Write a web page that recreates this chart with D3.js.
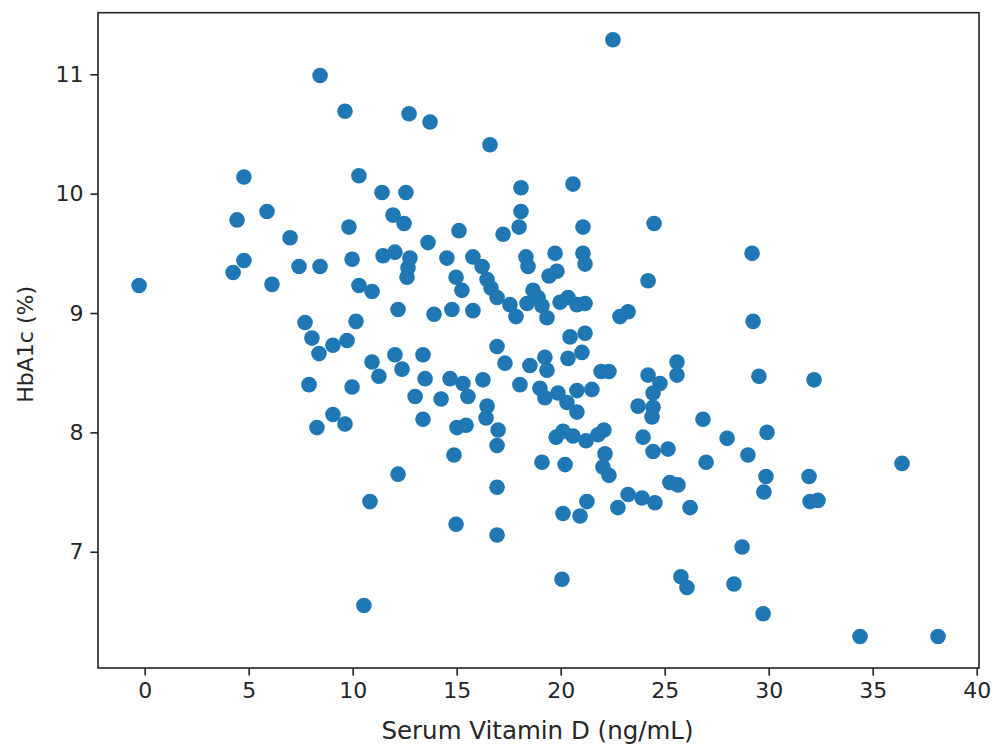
<!DOCTYPE html>
<html>
<head>
<meta charset="utf-8">
<script src="https://cdn.jsdelivr.net/npm/d3@7"></script>
<style>
  html, body { margin: 0; padding: 0; background: #fff; }
  svg { display: block; }
  text { font-family: "DejaVu Sans", sans-serif; fill: #262626; }
</style>
</head>
<body>
<svg id="chart" width="995" height="744"></svg>
<script>
// Serum vitamin D (ng/mL) values
const vitaminD = [
  -0.27, 4.25, 4.77, 4.44, 4.77, 5.88, 6.12, 6.99, 7.42, 8.43,
  8.43, 7.71, 8.04, 8.38, 7.90, 8.28, 9.05, 9.73, 9.05, 9.63,
  9.63, 9.82, 9.97, 9.97, 10.16, 10.30, 10.30, 10.93, 10.54, 10.83,
  10.93, 11.26, 11.46, 12.03, 11.41, 11.94, 12.47, 12.56, 12.71, 12.18,
  12.03, 12.37, 12.75, 12.66, 12.61, 12.18, 13.38, 13.48, 13.00, 13.38,
  13.62, 13.72, 13.91, 14.25, 14.53, 14.77, 14.68, 15.30, 15.54, 14.87,
  15.11, 14.97, 15.01, 15.45, 14.97, 15.25, 15.78, 16.22, 16.46, 16.65,
  16.94, 15.78, 16.60, 16.26, 16.46, 16.41, 16.94, 17.32, 16.99, 16.94,
  16.94, 16.94, 17.23, 18.09, 18.09, 18.00, 18.33, 18.43, 17.56, 17.85,
  18.67, 18.91, 18.38, 19.10, 19.34, 19.97, 20.35, 20.78, 21.17, 19.73,
  19.44, 19.82, 20.59, 21.07, 21.07, 21.17, 22.51, 24.49, 24.20, 22.85,
  23.24, 20.45, 21.17, 21.02, 20.35, 18.52, 19.24, 19.34, 21.94, 22.32,
  25.59, 25.59, 24.20, 24.77, 24.44, 23.72, 24.44, 24.39, 18.04, 19.00,
  19.24, 19.87, 20.30, 20.78, 21.50, 20.78, 19.78, 20.11, 20.59, 21.22,
  21.79, 22.08, 19.10, 20.21, 22.13, 22.03, 22.32, 23.96, 24.44, 25.16,
  20.11, 20.93, 21.26, 20.06, 22.75, 23.24, 23.91, 24.53, 25.25, 25.64,
  26.22, 25.78, 26.07, 26.84, 26.99, 28.00, 29.00, 29.92, 29.87, 29.77,
  28.72, 28.33, 29.73, 29.20, 29.25, 29.53, 32.18, 31.94, 31.99, 32.37,
  34.39, 38.14, 36.41
];
// HbA1c (%) values
const hba1c = [
  9.23, 9.34, 9.44, 9.78, 10.14, 9.85, 9.24, 9.63, 9.39, 10.99,
  9.39, 8.92, 8.79, 8.66, 8.40, 8.04, 8.73, 8.77, 8.15, 8.07,
  10.69, 9.72, 9.45, 8.38, 8.93, 10.15, 9.23, 9.18, 6.55, 7.42,
  8.59, 8.47, 9.48, 9.51, 10.01, 9.82, 9.75, 10.01, 10.67, 9.03,
  8.65, 8.53, 9.46, 9.38, 9.30, 7.65, 8.65, 8.45, 8.30, 8.11,
  9.59, 10.60, 8.99, 8.28, 9.46, 9.03, 8.45, 8.41, 8.30, 7.81,
  9.69, 7.23, 8.04, 8.06, 9.30, 9.19, 9.47, 9.39, 9.28, 9.21,
  9.13, 9.02, 10.41, 8.44, 8.22, 8.12, 8.72, 8.58, 8.02, 7.89,
  7.54, 7.14, 9.66, 10.05, 9.85, 9.72, 9.47, 9.39, 9.07, 8.97,
  9.19, 9.13, 9.08, 9.06, 8.96, 9.09, 9.13, 9.07, 9.08, 9.50,
  9.31, 9.35, 10.08, 9.72, 9.50, 9.41, 11.29, 9.75, 9.27, 8.97,
  9.01, 8.80, 8.83, 8.67, 8.62, 8.56, 8.63, 8.52, 8.51, 8.51,
  8.59, 8.48, 8.48, 8.41, 8.33, 8.22, 8.21, 8.13, 8.40, 8.37,
  8.29, 8.33, 8.25, 8.35, 8.36, 8.17, 7.96, 8.01, 7.97, 7.93,
  7.98, 8.02, 7.75, 7.73, 7.82, 7.71, 7.64, 7.96, 7.84, 7.86,
  7.32, 7.30, 7.42, 6.77, 7.37, 7.48, 7.45, 7.41, 7.58, 7.56,
  7.37, 6.79, 6.70, 8.11, 7.75, 7.95, 7.81, 8.00, 7.63, 7.50,
  7.04, 6.73, 6.48, 9.50, 8.93, 8.47, 8.44, 7.63, 7.42, 7.43,
  6.29, 6.29, 7.74
];
const xTicks = [0, 5, 10, 15, 20, 25, 30, 35, 40];
const yTicks = [7, 8, 9, 10, 11];
const xLabel = "Serum Vitamin D (ng/mL)";
const yLabel = "HbA1c (%)";

const svg = d3.select("#chart");
const plot = { left: 98, right: 979, top: 12.7, bottom: 668 };
const FS = 22;

const x = d3.scaleLinear().domain([-2.245, 40.11]).range([plot.left, plot.right]);
const y = d3.scaleLinear().domain([6.026, 11.516]).range([plot.bottom, plot.top]);

svg.append("rect").attr("width", 995).attr("height", 744).attr("fill", "#fff");

// points
svg.append("g").selectAll("circle")
  .data(vitaminD.map((v, i) => [v, hba1c[i]]))
  .join("circle")
  .attr("cx", d => x(d[0]))
  .attr("cy", d => y(d[1]))
  .attr("r", 7.8)
  .attr("fill", "#1f77b4");

// axes
const xAxis = d3.axisBottom(x).tickValues(xTicks).tickFormat(d3.format("d"))
  .tickSizeInner(7.6).tickSizeOuter(0).tickPadding(7);
const yAxis = d3.axisLeft(y).tickValues(yTicks).tickFormat(d3.format("d"))
  .tickSizeInner(7.6).tickSizeOuter(0).tickPadding(7);

const gx = svg.append("g").attr("transform", `translate(0,${plot.bottom})`).call(xAxis);
const gy = svg.append("g").attr("transform", `translate(${plot.left},0)`).call(yAxis);
[gx, gy].forEach(g => {
  g.select(".domain").remove();
  g.selectAll(".tick line").attr("stroke", "#222").attr("stroke-width", 1.6);
  g.selectAll(".tick text").attr("font-size", FS).attr("font-family", "DejaVu Sans").attr("fill", "#262626");
});

// frame
svg.append("rect")
  .attr("x", plot.left).attr("y", plot.top)
  .attr("width", plot.right - plot.left).attr("height", plot.bottom - plot.top)
  .attr("fill", "none").attr("stroke", "#222").attr("stroke-width", 1.6);

// labels
svg.append("text")
  .attr("x", (plot.left + plot.right) / 2 - 1).attr("y", 739)
  .attr("text-anchor", "middle").attr("font-size", 24.5)
  .text(xLabel);
svg.append("text")
  .attr("transform", `translate(33,${(plot.top + plot.bottom) / 2 + 4}) rotate(-90)`)
  .attr("text-anchor", "middle").attr("font-size", FS)
  .text(yLabel);
</script>
</body>
</html>
